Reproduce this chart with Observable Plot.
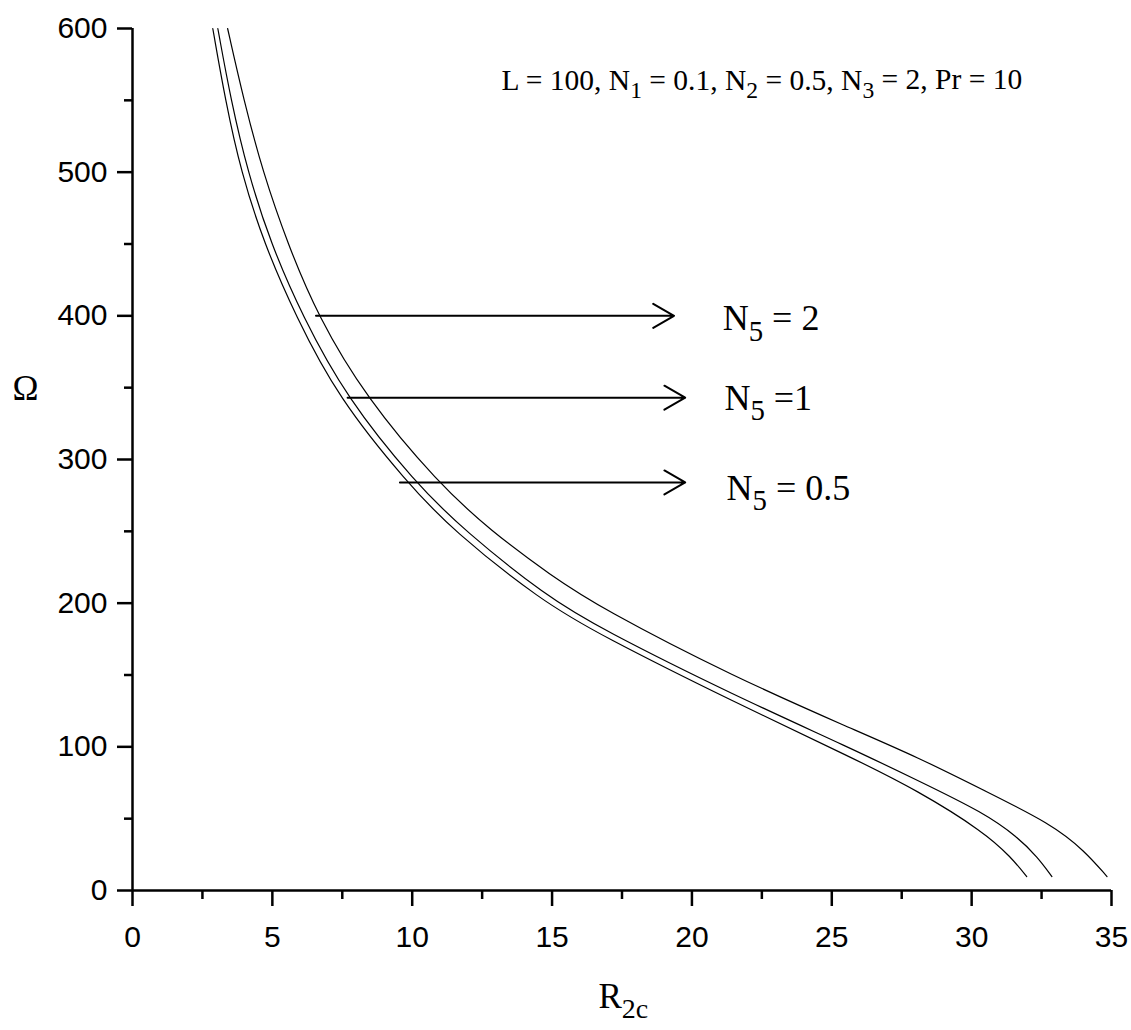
<!DOCTYPE html>
<html><head><meta charset="utf-8">
<script src="https://cdn.jsdelivr.net/npm/d3@7"></script>
<script src="https://cdn.jsdelivr.net/npm/@observablehq/plot@0.6"></script>
<style>html,body{margin:0;padding:0;background:#fff} svg{display:block}</style>
</head><body><div id="chart"></div>
<script>
// [R2c, Omega] pairs
const curveN05 = [[2.87,600],[3.32,550],[3.88,500],[4.71,450],[5.83,400],[7.35,343],[9.81,284],[11.45,250.6],[14.6,201.9],[16.75,177.5],[21.52,131],[25.69,92.8],[28.07,69.6],[30.45,40.6],[31.41,23.2],[31.97,9.7]];
const curveN1 = [[3.05,600],[3.52,550],[4.12,500],[4.95,450],[6.07,400],[7.65,343],[10.1,284],[11.86,250.6],[14.78,205],[16.75,182.1],[21.52,135.7],[25.69,99],[28.07,76.6],[30.45,54],[31.65,37.1],[32.36,23.2],[32.87,9.7]];
const curveN2 = [[3.40,600],[3.98,550],[4.66,500],[5.55,450],[6.62,400],[8.35,343],[10.91,284],[12.79,250.6],[14.96,219.3],[16.75,196.5],[21.52,148.5],[25.69,112.8],[28.07,92.8],[30.45,69.6],[32.84,46.4],[34.03,27.8],[34.84,9.7]];

const xMajorTicks = [0,5,10,15,20,25,30,35];
const xMinorTicks = [2.5,7.5,12.5,17.5,22.5,27.5,32.5];
const yMajorTicks = [0,100,200,300,400,500,600];
const yMinorTicks = [50,150,250,350,450,550];

const arrows = [
  {x1: 6.56, x2: 19.36, y: 400},
  {x1: 7.69, x2: 19.76, y: 343},
  {x1: 9.56, x2: 19.76, y: 284}
];
const arrowLabels = [
  {x: 21.1, y: 398, text: "N_{5} = 2"},
  {x: 21.16, y: 342.5, text: "N_{5} =1"},
  {x: 21.24, y: 280, text: "N_{5} = 0.5"}
];
const paramLabel = [{x: 22.5, y: 564, text: "L = 100, N_{1} = 0.1, N_{2} = 0.5, N_{3} = 2, Pr = 10"}];
const yTitle = [{y: 349, text: "Ω"}];
const xTitle = [{x: 17.55, text: "R_{2c}"}];

const series = [
  ...curveN05.map(([r, o]) => ({r, o, s: "0.5"})),
  ...curveN1.map(([r, o]) => ({r, o, s: "1"})),
  ...curveN2.map(([r, o]) => ({r, o, s: "2"}))
];

const serif = "'Liberation Serif', 'Times New Roman', serif";
const sans = "'Liberation Sans', Arial, sans-serif";

const chart = Plot.plot({
  width: 1131, height: 1030,
  marginLeft: 132, marginRight: 20, marginTop: 28, marginBottom: 140,
  x: {domain: [0, 35]},
  y: {domain: [0, 600]},
  style: {background: "transparent", color: "black"},
  marks: [
    Plot.line(series, {x: "r", y: "o", z: "s", curve: "basis", stroke: "black", strokeWidth: 1.2}),
    Plot.arrow(arrows, {x1: "x1", x2: "x2", y1: "y", y2: "y", stroke: "black", strokeWidth: 2, headLength: 18, headAngle: 60}),
    Plot.text(arrowLabels, {x: "x", y: "y", text: "text", textAnchor: "start", fontFamily: serif, fontSize: 36, fill: "black"}),
    Plot.text(paramLabel, {x: "x", y: "y", text: "text", textAnchor: "middle", fontFamily: serif, fontSize: 29.5, fill: "black"}),
    Plot.text(yTitle, {y: "y", text: "text", frameAnchor: "left", dx: -107, textAnchor: "middle", fontFamily: serif, fontSize: 35, fill: "black"}),
    Plot.text(xTitle, {x: "x", text: "text", frameAnchor: "bottom", dy: 117, textAnchor: "middle", fontFamily: serif, fontSize: 35, fill: "black"}),
    Plot.axisX({ticks: xMajorTicks, tickSize: 16, tickPadding: 19, fontSize: 30, fontFamily: sans, strokeWidth: 2.5, label: null, tickFormat: d => String(d)}),
    Plot.axisX({ticks: xMinorTicks, tickSize: 9, strokeWidth: 2.5, label: null, tickFormat: () => ""}),
    Plot.axisY({ticks: yMajorTicks, tickSize: 15, tickPadding: 10, fontSize: 30, fontFamily: sans, strokeWidth: 2.5, label: null, tickFormat: d => String(d)}),
    Plot.axisY({ticks: yMinorTicks, tickSize: 8, strokeWidth: 2.5, label: null, tickFormat: () => ""}),
    Plot.ruleY([0], {stroke: "black", strokeWidth: 2.5}),
    Plot.ruleX([0], {stroke: "black", strokeWidth: 2.5})
  ]
});

// turn "_{...}" markup into real subscript tspans
const NS = "http://www.w3.org/2000/svg";
chart.querySelectorAll("text").forEach(t => {
  const s = t.textContent;
  if (!s.includes("_{")) return;
  const parts = s.split(/_\{([^}]*)\}/);
  t.textContent = "";
  let lowered = false;
  parts.forEach((p, i) => {
    if (p === "") { return; }
    const ts = document.createElementNS(NS, "tspan");
    ts.textContent = p;
    if (i % 2 === 1) {
      ts.setAttribute("font-size", "80%");
      ts.setAttribute("dy", "0.36em");
      lowered = true;
    } else if (lowered) {
      ts.setAttribute("dy", "-0.29em");
      lowered = false;
    }
    t.appendChild(ts);
  });
});

document.getElementById("chart").appendChild(chart);
</script>
</body></html>
